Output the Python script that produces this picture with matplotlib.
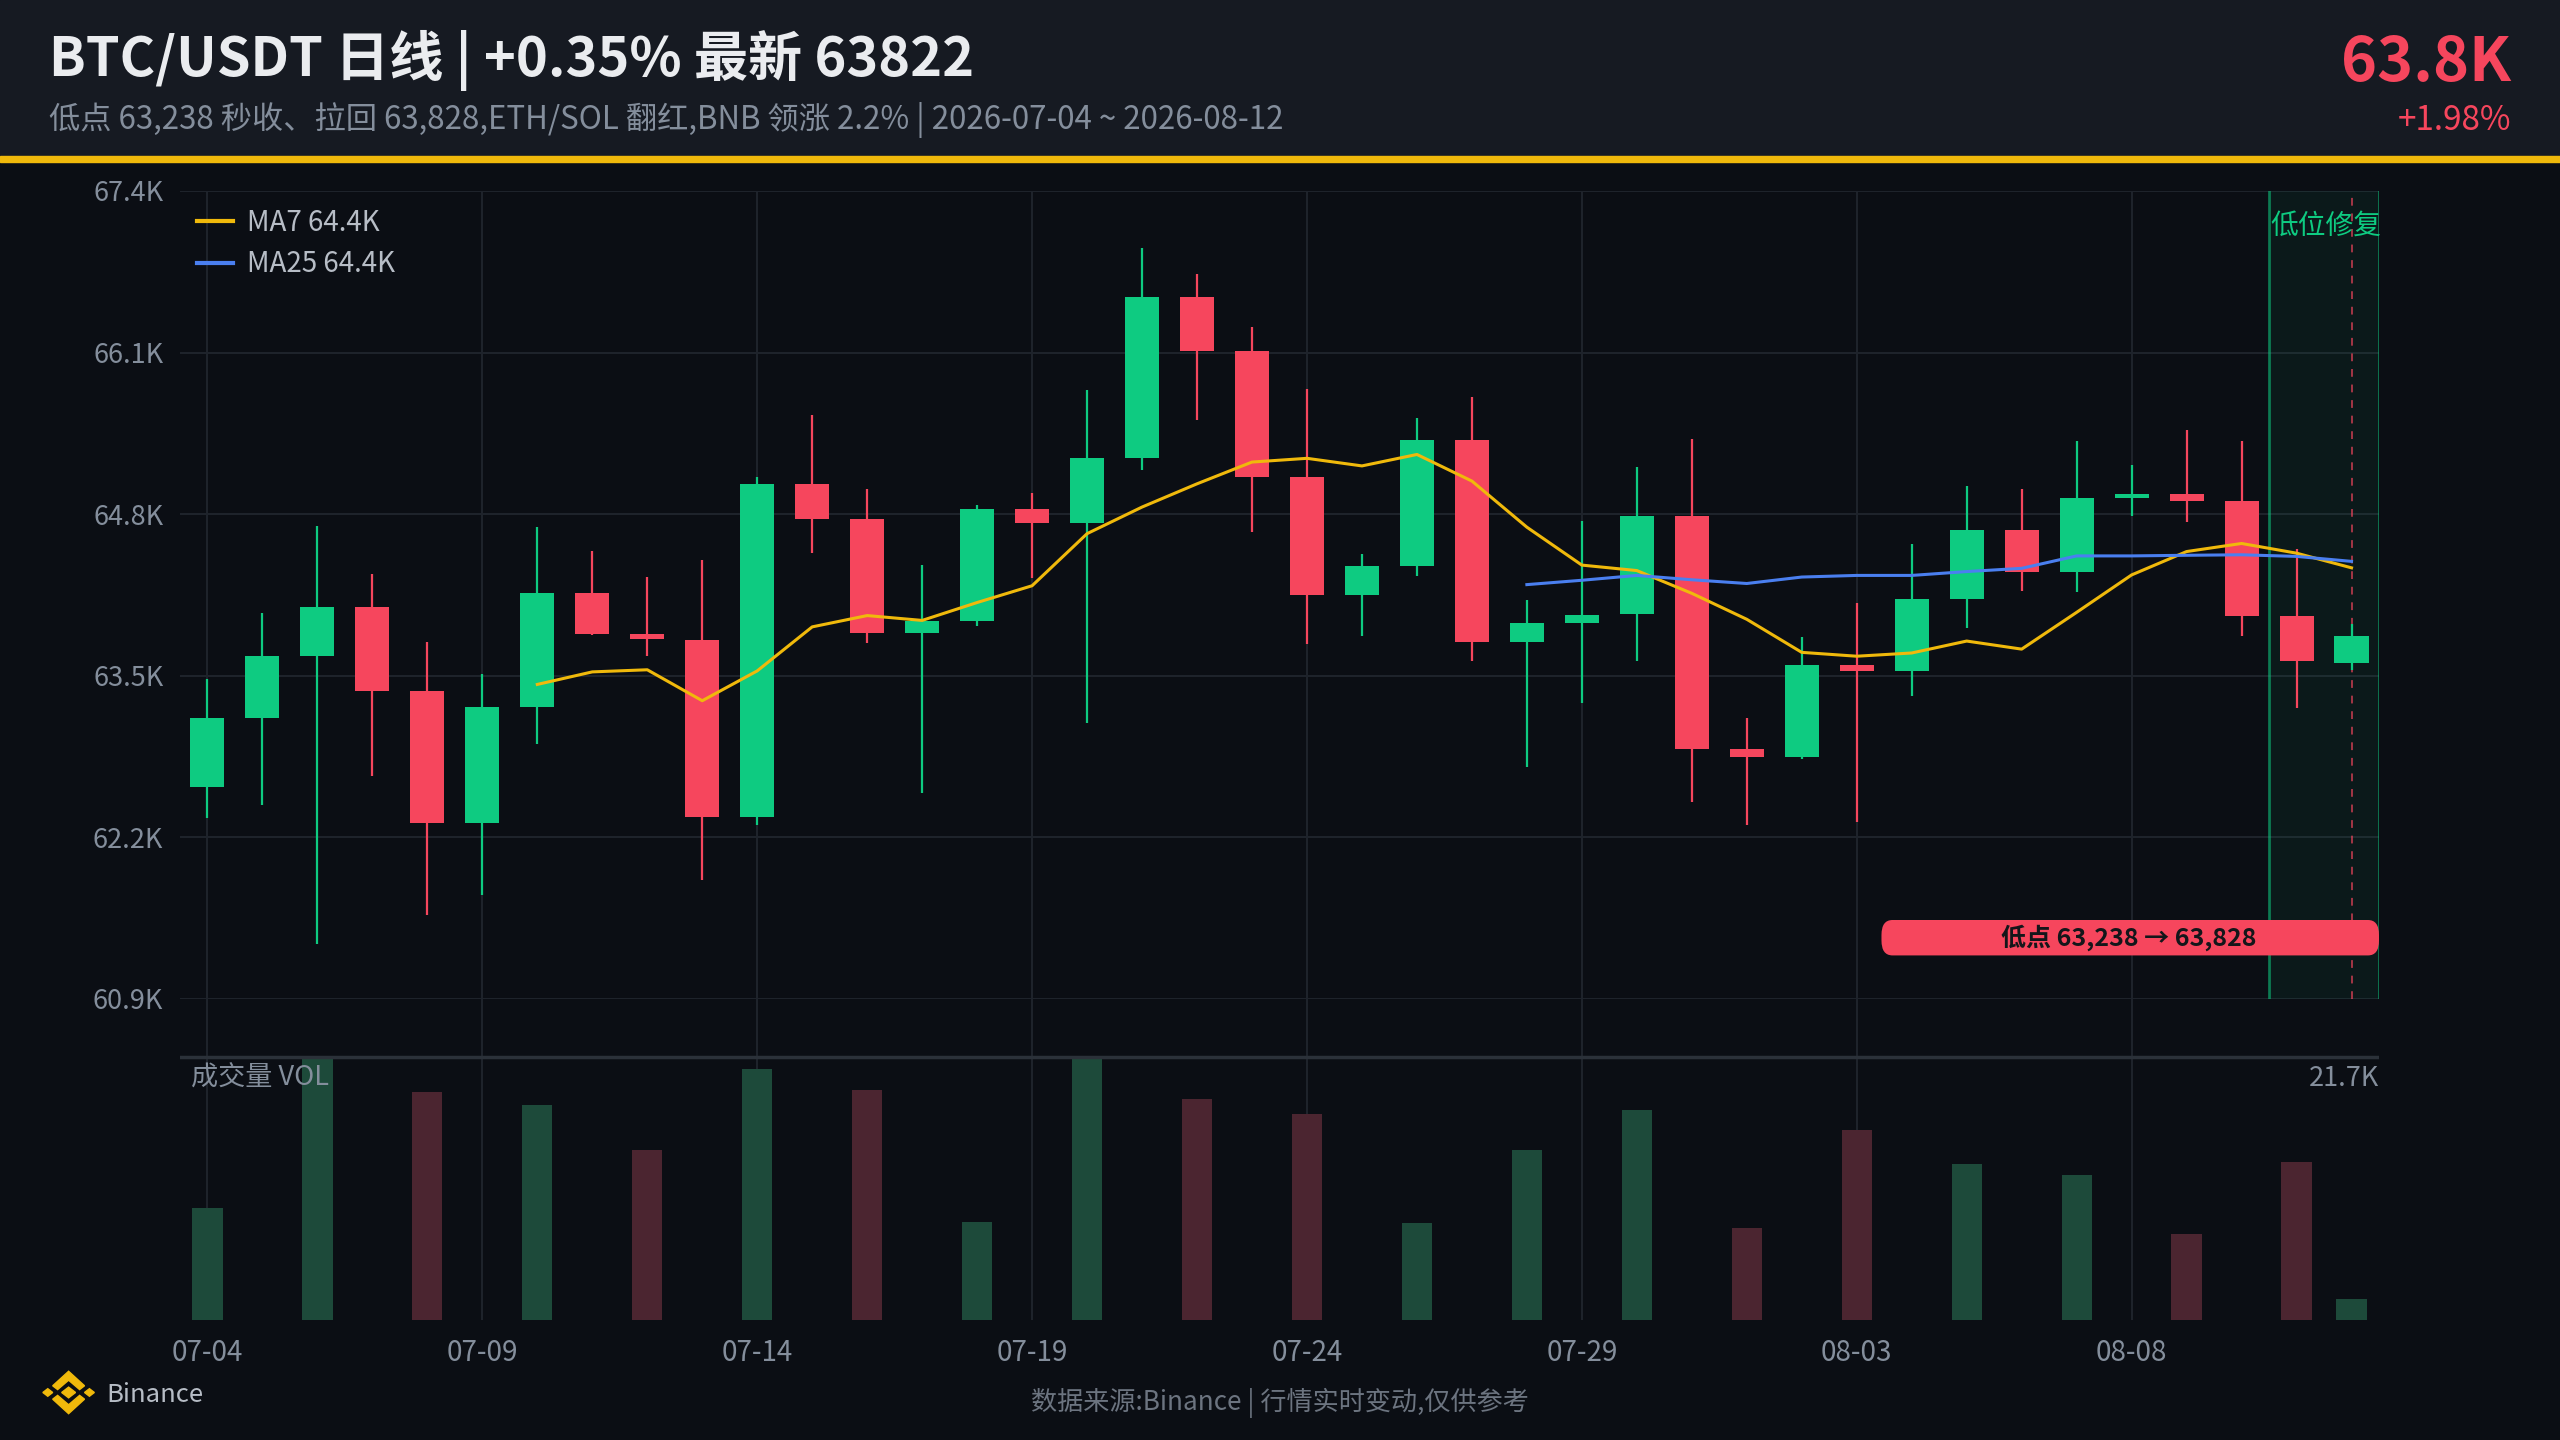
import numpy as np
import matplotlib.pyplot as plt
from matplotlib.patches import Rectangle, FancyBboxPatch, Polygon

plt.rcParams['font.family'] = ['Noto Sans CJK SC', 'DejaVu Sans']

BG = '#0b0e14'
HEAD = '#161a22'
GREEN = '#0ecb81'
RED = '#f6465d'
YELLOW = '#f0b90b'
BLUE = '#4a7ff0'
GRID = '#1e232b'
GRAY = '#848e9c'

# daily candles 07-04 .. 08-12
opens = [62606, 63160, 63661, 64050, 63378, 62318, 63251, 64167, 63832, 63788,
         62361, 65044, 64761, 63845, 63941, 64839, 64730, 65254, 66545, 66109,
         65097, 64150, 64386, 65393, 63770, 63928, 63993, 64783, 62907, 62846,
         63583, 63535, 64119, 64669, 64338, 64927, 64966, 64905, 63980, 63600]
highs = [63474, 64006, 64704, 64320, 63775, 63513, 64695, 64503, 64294, 64429,
         65101, 65594, 65001, 64394, 64870, 64970, 65799, 66942, 66728, 66305,
         65803, 64482, 65577, 65742, 64106, 64748, 65180, 65406, 63164, 63810,
         64089, 64556, 65027, 65001, 65389, 65197, 65476, 65389, 64521, 63919]
lows = [62353, 62457, 61341, 62697, 61576, 61738, 62950, 63830, 63657, 61855,
        62296, 64490, 63762, 62558, 63901, 64285, 63120, 65153, 65555, 64660,
        63753, 63823, 64303, 63622, 62763, 63282, 63622, 62488, 62300, 62828,
        62327, 63339, 63888, 64181, 64172, 64787, 64735, 63823, 63238, 63548]
closes = [63160, 63661, 64050, 63378, 62318, 63247, 64167, 63836, 63792, 62361,
          65044, 64761, 63845, 63941, 64839, 64730, 65254, 66545, 66113, 65101,
          64150, 64381, 65393, 63770, 63923, 63989, 64783, 62907, 62846, 63583,
          63535, 64115, 64669, 64338, 64927, 64966, 64909, 63984, 63618, 63822]

nan = np.nan
ma7 = [nan] * 6 + [63430, 63531, 63548, 63299, 63539, 63893, 63984, 63945, 64089, 64224,
                   64643, 64857, 65044, 65219, 65249, 65188, 65280, 65066, 64695, 64390,
                   64346, 64163, 63954, 63688, 63657, 63683, 63779, 63714, 64010, 64311,
                   64499, 64564, 64486, 64368]
ma25 = [nan] * 24 + [64233, 64268, 64307, 64272, 64242, 64294, 64307, 64307, 64338, 64364,
                     64464, 64464, 64469, 64473, 64460, 64420]

vol_days = [0, 2, 4, 6, 8, 10, 12, 14, 16, 18, 20, 22, 24, 26, 28, 30, 32, 34, 36, 38, 39]
vol_values = [9.26, 21.70, 18.85, 17.79, 14.11, 20.81, 19.01, 8.15, 21.62, 18.32, 17.04,
              8.06, 14.05, 17.35, 7.65, 15.74, 12.91, 11.97, 7.12, 13.05, 1.75]

tick_pos = [0, 5, 10, 15, 20, 25, 30, 35]
tick_labels = ['07-04', '07-09', '07-14', '07-19', '07-24', '07-29', '08-03', '08-08']
price_ticks = [60900, 62200, 63500, 64800, 66100, 67400]
price_labels = ['60.9K', '62.2K', '63.5K', '64.8K', '66.1K', '67.4K']

fig = plt.figure(figsize=(25.6, 14.4), dpi=100, facecolor=BG)

# header band
fig.patches.append(Rectangle((0, 0.892), 1, 0.108, transform=fig.transFigure,
                             color=HEAD, zorder=0))
fig.patches.append(Rectangle((0, 0.8875), 1, 0.0045, transform=fig.transFigure,
                             color=YELLOW, zorder=1))

fig.text(0.019, 0.958, 'BTC/USDT 日线 | +0.35% 最新 63822', color='#eaecef',
         fontsize=39, fontweight='bold', va='center', ha='left')
fig.text(0.019, 0.917, '低点 63,238 秒收、拉回 63,828,ETH/SOL 翻红,BNB 领涨 2.2% | 2026-07-04 ~ 2026-08-12',
         color=GRAY, fontsize=22.5, va='center', ha='left')
fig.text(0.981, 0.956, '63.8K', color=RED, fontsize=44, fontweight='bold',
         va='center', ha='right')
fig.text(0.981, 0.916, '+1.98%', color=RED, fontsize=24, va='center', ha='right')

# price panel
ax = fig.add_axes([0.0703, 0.3063, 0.859, 0.5611])
ax.set_facecolor(BG)
x = np.arange(len(opens))
o = np.array(opens)
c = np.array(closes)
colors = [GREEN if cc >= oo else RED for oo, cc in zip(opens, closes)]
ax.vlines(x, lows, highs, colors=colors, lw=1.6, zorder=3)
ax.bar(x, np.maximum(np.abs(c - o), 25), bottom=np.minimum(o, c), width=0.62,
       color=colors, zorder=4)
l1, = ax.plot(x, ma7, color=YELLOW, lw=2.2, zorder=5, label='MA7 64.4K')
l2, = ax.plot(x, ma25, color=BLUE, lw=2.2, zorder=5, label='MA25 64.4K')

ax.axvspan(37.5, 39.5, color=GREEN, alpha=0.06, zorder=1, lw=0)
ax.axvline(37.5, color=GREEN, alpha=0.55, lw=2, zorder=2)
ax.axvline(39.5, color=GREEN, alpha=0.55, lw=2, zorder=2)
ax.axvline(39, color=RED, alpha=0.65, lw=1.4, ls=(0, (4, 4)), zorder=2)
ax.text(39.55, 67120, '低位修复', color=GREEN, fontsize=20, ha='right', va='center', zorder=6)

box = FancyBboxPatch((30.45, 61250), 9.05, 285, boxstyle='round,pad=0,rounding_size=0.2',
                     mutation_aspect=600, facecolor=RED, edgecolor='none', zorder=6)
ax.add_patch(box)
ax.text(34.95, 61392, '低点 63,238 → 63,828', color='#14161a', fontsize=18,
        fontweight='bold', ha='center', va='center', zorder=7)

ax.set_xlim(-0.5, 39.5)
ax.set_ylim(60900, 67400)
ax.set_yticks(price_ticks)
ax.set_yticklabels(price_labels)
ax.set_xticks(tick_pos)
ax.tick_params(axis='both', length=0, colors=GRAY, labelsize=19.5, labelbottom=False, pad=12)
ax.grid(True, color=GRID, lw=1.5)
ax.set_axisbelow(True)
for s in ax.spines.values():
    s.set_visible(False)

leg = ax.legend(handles=[l1, l2], loc='upper left', frameon=False, fontsize=20,
                labelcolor='#b7bdc6', handlelength=1.3, handletextpad=0.5,
                labelspacing=0.4, borderaxespad=0.22, bbox_to_anchor=(0.0, 1.0))
for h in leg.legend_handles:
    h.set_linewidth(3)

# volume panel
axv = fig.add_axes([0.0703, 0.0833, 0.859, 0.223], sharex=ax)
axv.set_facecolor(BG)
vmax = max(vol_values)
vcolors = ['#1d4a3a' if closes[d] >= opens[d] else '#4b2530' for d in vol_days]
axv.bar(vol_days, vol_values, width=0.55, color=vcolors, zorder=3)
axv.set_ylim(0, vmax / 0.8167)
axv.plot([0, 1], [0.82, 0.82], transform=axv.transAxes, color='#2b3139', lw=2.5, zorder=4)
axv.text(0.005, 0.752, '成交量 VOL', transform=axv.transAxes, color=GRAY, fontsize=19.5,
         ha='left', va='center')
axv.text(1.0, 0.752, '%.1fK' % vmax, transform=axv.transAxes, color=GRAY, fontsize=19.5,
         ha='right', va='center')
axv.set_xticks(tick_pos)
axv.set_xticklabels(tick_labels)
axv.set_yticks([])
axv.tick_params(axis='x', length=0, colors=GRAY, labelsize=20, pad=13)
axv.grid(True, axis='x', color=GRID, lw=1.5)
axv.set_axisbelow(True)
for s in axv.spines.values():
    s.set_visible(False)

# footer
lg = fig.add_axes([0.0155, 0.0175, 0.0226, 0.031])
lg.set_xlim(-1, 1)
lg.set_ylim(-1, 1)
lg.axis('off')
for sgn in (1, -1):
    lg.add_patch(Polygon([(-0.55, 0.3 * sgn), (0, 0.95 * sgn), (0.55, 0.3 * sgn),
                          (0.38, 0.13 * sgn), (0, 0.55 * sgn), (-0.38, 0.13 * sgn)],
                         closed=True, color=YELLOW))
lg.add_patch(Polygon([(0, 0.24), (0.24, 0), (0, -0.24), (-0.24, 0)], color=YELLOW))
for cx in (-0.72, 0.72):
    lg.add_patch(Polygon([(cx, 0.17), (cx + 0.17, 0), (cx, -0.17), (cx - 0.17, 0)], color=YELLOW))

fig.text(0.0415, 0.0315, 'Binance', color='#b7bdc6', fontsize=18.5, ha='left', va='center')
fig.text(0.5, 0.0255, '数据来源:Binance | 行情实时变动,仅供参考', color='#6c7480',
         fontsize=18.8, ha='center', va='center')

fig.savefig('out.png', dpi=100, facecolor=BG)
